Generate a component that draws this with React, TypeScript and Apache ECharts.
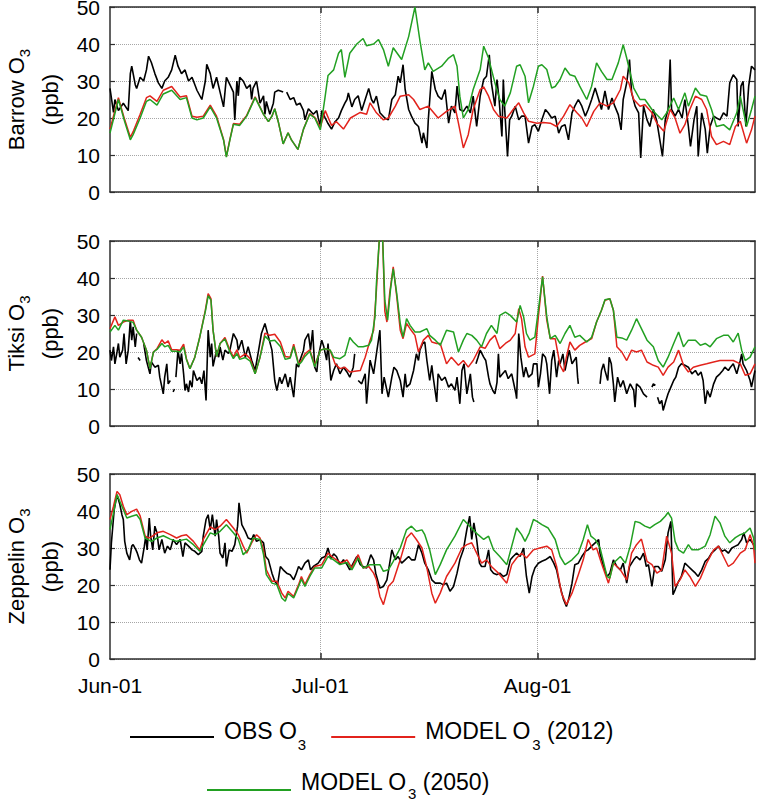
import React, { useEffect, useRef } from 'react';
import * as echarts from 'echarts';

type Pt = [number, number | null];

// ---------- axes / labels ----------
const stationNames = ['Barrow', 'Tiksi', 'Zeppelin'];
const tickDays = [0, 30, 61];
const tickLabels = ['Jun-01', 'Jul-01', 'Aug-01'];
const dayMax = 92;
const yMin = 0;
const yMax = 50;
const yInterval = 10;
const seriesNames = ['OBS O3', 'MODEL O3 (2012)', 'MODEL O3 (2050)'];
const legendMain = ['OBS O', 'MODEL O', 'MODEL O'];
const legendSub = ['3', '3', '3'];
const legendTail = ['', ' (2012)', ' (2050)'];

// ---------- Barrow ----------
const barrowObs: Pt[] = [
  [0, 28], [0.5, 21.5], [0.7, 25], [1.2, 22], [1.9, 24], [2.6, 22], [2.9, 32], [3.1, 34], [3.6, 29], [3.8, 28],
  [4.3, 31], [4.8, 30], [5.2, 33], [5.5, 36.7], [5.9, 35], [6.4, 32], [6.9, 29.5], [7.4, 28], [7.8, 30], [8.3, 31],
  [8.8, 33], [9.3, 37], [9.7, 34], [10.2, 32], [10.7, 33], [11.2, 30], [11.7, 31], [12.4, 27.5], [13.1, 25], [13.6, 30],
  [13.8, 34.5], [14.3, 32], [14.7, 28], [15.2, 31], [15.7, 27], [16.2, 23], [16.6, 31], [17.1, 29], [17.6, 27], [17.8, 19.5],
  [18.1, 30], [18.3, 26], [18.5, 31], [19, 30], [19.5, 28], [20, 29], [20.2, 25], [20.4, 28], [20.9, 30], [21.4, 24],
  [21.9, 26], [22.1, 21], [22.3, 24.5], [22.8, 21], [23.3, 24], [23.5, 27], [24, 27.5], [24.7, 27], [25, null], [25.2, 27],
  [25.7, 25], [26.2, 25.5], [26.6, 23.5], [27.1, 24], [27.6, 22], [27.8, 19.5], [28.3, 22.5], [29, 21], [29.5, 22], [29.7, 20],
  [30, 18], [30.2, 22], [30.7, 20], [31.1, 18.5], [31.6, 17], [32.1, 19], [32.6, 20], [33, 22], [33.5, 24], [33.8, 25],
  [34, 26.8], [34.5, 23], [34.9, 25], [35.4, 26], [35.9, 22], [36.9, 28], [37.3, 25], [37.6, 24], [38, 25.9], [38.5, 21.4],
  [39.2, 20], [39.7, 19.5], [40.2, 25], [40.7, 26.3], [41.1, 31.3], [41.4, 29.5], [41.8, 34.4], [42.1, 27.7], [42.6, 22.3], [43, 20.5],
  [43.5, 18.6], [44, 17.7], [44.5, 13.2], [44.7, 16], [45.2, 11.9], [45.4, 19.5], [45.9, 32.6], [46.4, 27.7], [46.8, 25.9], [47.3, 25],
  [47.8, 27.7], [48.3, 18.6], [48.7, 23.2], [49.2, 21.4], [49.5, 28.6], [49.9, 22.3], [50.4, 21.8], [50.9, 23.2], [51.4, 21.4], [51.8, 25.9],
  [52.3, 17.7], [52.8, 25.9], [53.3, 30.4], [53.7, 31.3], [54.1, 37.1], [54.4, 29.5], [54.9, 23.2], [55.2, 30.4], [55.5, 25], [55.9, 15],
  [56.1, 30.4], [56.3, 22.3], [56.7, 9.6], [57, 19.5], [57.3, 20.5], [57.8, 23.2], [58.3, 19.5], [58.7, 20.5], [59.2, 20.5], [59.7, 13.2],
  [60.2, 17.7], [60.6, 18.2], [61.1, 16.4], [61.6, 19.5], [62.1, 22.3], [62.5, 21.4], [63, 20], [63.5, 20.5], [64, 15.9], [64.4, 17.7],
  [64.9, 18.2], [65.4, 14.1], [65.9, 21.4], [66.3, 23.2], [66.8, 25], [67.3, 23.2], [67.8, 20.5], [68.2, 22.3], [68.7, 25], [69.2, 28.1],
  [69.7, 25], [70.1, 22.3], [70.6, 27.3], [71.1, 22.3], [71.6, 25.4], [72, 23.2], [72.5, 20.9], [72.9, 16.8], [73.2, 25], [73.7, 29.5],
  [74.1, 35.8], [74.4, 26.8], [74.9, 23.2], [75.4, 21.4], [75.7, 9.2], [76.1, 23.2], [76.6, 19.5], [77, 17.7], [77.5, 22.3], [78, 19.1],
  [78.5, 13.2], [78.8, 9.6], [79.2, 19.5], [79.6, 22.3], [79.9, 35.8], [80.1, 22.3], [80.6, 20.5], [81.1, 22.3], [81.6, 20], [82, 25],
  [82.5, 17.7], [82.8, 12.3], [83.3, 19.5], [83.7, 23.2], [83.9, 9.6], [84.4, 21.4], [84.9, 17], [85.2, 10.5], [85.6, 17.7], [86.1, 20.5],
  [86.5, 20], [87, 19.5], [87.5, 21.4], [88, 20.5], [88.4, 29.5], [88.9, 31.7], [89.4, 30.4], [89.6, 17.7], [90, 28.6], [90.3, 29.9],
  [90.7, 17.7], [91.1, 28.6], [91.5, 34], [92, 33],
];
const barrowModel2012: Pt[] = [
  [0, 17], [1.2, 25.5], [2.1, 19.5], [2.9, 14.8], [3.3, 16.3], [4.3, 21], [5.2, 25.5], [5.7, 26], [6.7, 24.5], [7.6, 27.5],
  [8.8, 28.5], [10, 25.7], [10.9, 26], [11.7, 20.5], [12.4, 20.2], [13.3, 20.5], [14.3, 23.5], [15.2, 20.5], [16.2, 14.2], [16.6, 9.6],
  [17.1, 14.2], [17.6, 18.5], [18.5, 18.3], [19.5, 20.7], [20.7, 25.7], [21.9, 21], [22.6, 19], [23.1, 20.5], [23.5, 22.5], [24, 19],
  [24.7, 13], [25.4, 16], [25.9, 14], [26.8, 11.5], [27.6, 17], [28.5, 21.2], [29.2, 20.2], [30, 17.5], [30.7, 22], [31.6, 18],
  [32.3, 19], [33.3, 17], [34.3, 20], [35.7, 21.5], [36.6, 21], [37.1, 24.1], [38, 21.4], [39, 19.5], [39.7, 20], [40.7, 23.2],
  [41.4, 25.9], [42.6, 26.3], [43.3, 25], [44.2, 22.3], [45.4, 23.2], [46.8, 20], [48, 21.8], [49.2, 23.2], [49.7, 18.6], [50.4, 11.9],
  [51.1, 15.5], [51.8, 22.3], [52.8, 27.7], [53.3, 28.4], [54, 25.9], [54.7, 22.3], [55.4, 20.5], [56.6, 20], [57.5, 22.3], [58.3, 24.1],
  [59, 21.4], [59.7, 19.1], [60.9, 18.6], [61.8, 18.8], [62.8, 18.6], [63.7, 17.7], [64.7, 20.5], [65.6, 23.6], [66.6, 21.4], [67.3, 20],
  [68, 17.7], [69, 21.8], [69.9, 24.1], [70.9, 23.2], [71.8, 24.1], [72.8, 27.7], [73.2, 31.3], [74, 29.5], [74.7, 25], [75.6, 23.2],
  [76.3, 23.6], [77.3, 21.4], [78, 18.6], [79, 16.4], [79.9, 22.3], [80.6, 20], [81.3, 15.9], [82, 18.2], [82.7, 22.3], [83.5, 25.9],
  [84.4, 25], [85.1, 22.3], [85.8, 15], [86.5, 12.8], [87.5, 13.7], [88.4, 12.8], [89.2, 17.7], [89.9, 19.1], [90.8, 13.2], [91.5, 16.8],
  [92, 20.5],
];
const barrowModel2050: Pt[] = [
  [0, 15.9], [1.2, 25], [2.1, 19], [2.9, 14.1], [3.3, 15.5], [4.3, 20], [5.2, 24.5], [5.7, 25], [6.7, 23.5], [7.6, 26.5],
  [8.8, 27.5], [10, 25], [10.9, 25.5], [11.7, 20], [12.4, 19.5], [13.3, 20], [14.3, 23], [15.2, 20], [16.2, 14], [16.6, 9.4],
  [17.1, 14], [17.6, 18.3], [18.5, 18], [19.5, 20.5], [20.7, 25.5], [21.9, 21], [22.6, 19], [23.1, 20.5], [23.5, 22.5], [24, 19],
  [24.7, 13], [25.4, 16], [25.9, 14], [26.8, 11.5], [27.6, 17], [28.5, 21], [29.2, 20], [30, 16.8], [30.7, 26], [31.1, 31.5],
  [31.9, 33], [32.6, 37.5], [33, 38.5], [33.5, 31], [34.2, 37.5], [35.2, 40], [36.1, 41.5], [36.6, 39.5], [37.6, 40], [38.3, 41.2],
  [39, 38.5], [39.7, 34], [40.4, 39], [41.6, 35.8], [42.6, 42], [43.5, 50], [44.2, 41], [44.9, 33], [45.4, 34.9], [46.1, 32.6],
  [47.3, 34], [48.3, 36.2], [49, 37.1], [49.5, 34], [49.9, 25.9], [50.4, 20], [51.1, 22.3], [51.8, 27.7], [52.8, 33.1], [53.3, 39.4],
  [54, 36.2], [54.9, 29.5], [55.6, 25], [56.3, 23.2], [57.1, 26.8], [58, 34], [58.5, 34.4], [59.2, 31.3], [59.7, 24.1], [60.4, 28.6],
  [61.1, 34], [61.6, 34.4], [62.3, 33.1], [63, 28.1], [63.5, 28.5], [64.2, 30.4], [64.9, 33.5], [65.6, 31.7], [66.3, 31.3], [67, 28.6],
  [68, 25], [68.7, 28.6], [69.4, 34.9], [70.1, 32.6], [70.9, 30.4], [71.6, 30.4], [72.5, 34.9], [73.2, 39.8], [73.7, 36.2], [74.7, 28.1],
  [75.6, 25], [76.3, 25], [77.3, 22.3], [78, 20.9], [78.7, 19.5], [79.4, 21.4], [80.4, 25.4], [81.1, 22.3], [82, 26.8], [82.5, 23.2],
  [83.5, 28.1], [84.2, 26.3], [85.1, 25.9], [85.8, 22.3], [86.5, 17.7], [87.5, 18.2], [88.4, 16.8], [89.4, 21.4], [89.9, 25.9], [90.8, 17.7],
  [91.5, 22.3], [92, 25.9],
];

// ---------- Tiksi ----------
const tiksiObs: Pt[] = [
  [0, 20.5], [0.2, 17.7], [0.5, 21.4], [0.7, 16.8], [1, 20], [1.2, 22.3], [1.4, 18.6], [1.8, 20.5], [2, 25], [2.3, 16.8],
  [2.6, 20.5], [2.9, 28.6], [3.1, 23.2], [3.3, 26.8], [3.6, 21.4], [3.8, 25], [3.9, null], [4, 18.5], [4.3, 17.7], [4.5, null],
  [4.8, 22.3], [5.2, 17.7], [5.7, 14.1], [5.9, 17.3], [6.4, 15.9], [6.9, 16.4], [7.1, 13.2], [7.6, 8.7], [7.8, 13.2], [8.1, 16.8],
  [8.3, 11.4], [8.6, 12.3], [8.8, null], [9, 9.2], [9.2, 10], [9.3, null], [9.4, 13.2], [9.7, 20.5], [10, 16.8], [10.2, 19.6],
  [10.5, 14.1], [10.7, 9.6], [10.9, 11.4], [11.2, 9.2], [11.4, 12.3], [11.7, 10.5], [11.9, 15], [12.4, 12.3], [12.8, 13.2], [13.1, 11.4],
  [13.4, 15], [13.7, 6.9], [14, 25.9], [14.3, 18.6], [14.5, 22.3], [14.7, 16.1], [15.2, 20.5], [15.5, 18.6], [15.7, 21.4], [16.1, 17.8],
  [16.4, 20.5], [16.9, 19.6], [17.1, 20.5], [17.6, 25], [18.1, 23.2], [18.3, 20.5], [18.8, 23.2], [19.3, 18.6], [19.7, 21.4], [20.2, 17.8],
  [20.7, 15], [21.2, 20.5], [21.6, 25], [22.1, 27.7], [22.6, 24.1], [23.1, 20.5], [23.5, 12.3], [23.8, 9.6], [24.2, 13.2], [24.5, 11.4],
  [25, 14.1], [25.4, 10.5], [25.7, 13.2], [26.2, 7.8], [26.4, 12.3], [26.6, 16.8], [26.9, 15.9], [27.1, 17.8], [27.6, 20.5], [27.8, 23.2],
  [28.3, 25], [28.6, 20.5], [28.9, 25.9], [29.2, 15.9], [29.5, 14.6], [29.7, 18.6], [30.2, 23.2], [30.5, 21.4], [30.9, 17.8], [31.1, 22.3],
  [31.5, 12.3], [31.9, 15], [32.3, 16.8], [32.8, 14.1], [33.3, 15.9], [33.8, 14.6], [34.2, 13.2], [34.7, 15.9], [34.9, 19.5], [35.1, null],
  [35.4, 12.3], [35.9, 11.4], [36.4, 14.1], [36.6, 6], [37.1, 17.8], [37.6, 14.1], [38, 19.5], [38.5, 25.9], [38.8, 8.7], [39.1, 13.2],
  [39.5, 9.6], [39.7, 7.8], [40.2, 13.2], [40.5, 15.9], [40.9, 15], [41.4, 12.3], [41.8, 7.8], [42.1, 14.1], [42.3, 10.5], [42.8, 11.4],
  [43.3, 15], [43.7, 19.5], [44, 17.7], [44.2, 20.5], [44.6, 22.3], [44.9, 22.7], [45.2, 17.7], [45.6, 12.3], [45.9, 16.4], [46.1, 13.2],
  [46.6, 6.5], [46.8, 14.1], [47.3, 12.3], [47.8, 13.2], [48.3, 10.5], [48.7, 11.4], [49.2, 9.6], [49.5, 13.2], [49.9, 6], [50.2, 15],
  [50.5, 16.8], [50.9, 8.7], [51.4, 14.1], [51.7, 7.8], [51.9, 6.5], [52.1, null], [52.2, 16.8], [52.5, 18.6], [52.8, 20.5], [53.3, 18.6],
  [53.6, 17.7], [54, 13.2], [54.2, 11.4], [54.6, 9.6], [54.9, 8.7], [55.2, 11.8], [55.4, 19.5], [55.6, 13.2], [56, 14.1], [56.4, 15],
  [56.8, 12.8], [57.3, 14.1], [57.5, 12.3], [57.9, 8.7], [58, 7.4], [58.3, 25], [58.6, 18.6], [59, 13.2], [59.3, 15.9], [59.7, 13.2],
  [60.2, 14.1], [60.4, 16.8], [60.9, 16.8], [61.1, 10.5], [61.4, 14.1], [61.7, 19.5], [62.1, 18.6], [62.3, 16.8], [62.7, 8.7], [63, 17.7],
  [63.3, 20.5], [63.7, 13.2], [64, 17.7], [64.2, 16.8], [64.6, 19.5], [64.9, 15], [65.1, 16.8], [65.5, 20.5], [65.9, 16.8], [66.2, 17.7],
  [66.5, 18.6], [66.7, 13.2], [66.8, 11.4], [67.5, null], [69.9, 11.4], [70.1, 15], [70.4, 16.8], [70.6, 15], [71, 12.3], [71.2, 18.6],
  [71.5, 16.8], [71.8, 11.4], [72, 6.5], [72.4, 13.2], [72.8, 10.5], [73.2, 12.3], [73.7, 8.7], [74.2, 11.4], [74.7, 9.6], [74.9, 5.1],
  [75.1, 11.4], [75.6, 10.5], [76.1, 8.7], [76.6, 7.8], [76.9, null], [77.3, 10.5], [77.5, 11.4], [77.8, 11], [78, null], [78.1, 7.8],
  [78.4, 6], [78.7, 6.9], [78.9, 4.2], [79.3, 6.9], [79.6, 8.7], [80, 10.5], [80.4, 12.3], [80.7, 13.2], [81.1, 15.9], [81.5, 16.8],
  [82, 16.4], [82.5, 15.9], [83, 14.1], [83.5, 15], [83.9, 13.7], [84.3, 14.6], [84.6, 12.3], [84.9, 6], [85.2, 9.6], [85.6, 7.8],
  [86.1, 11.4], [86.5, 13.2], [87, 14.1], [87.4, 15], [87.7, 15.9], [88.2, 15], [88.5, 15.9], [88.9, 16.8], [89.4, 14.1], [89.9, 17.7],
  [90.1, 19.5], [90.3, 16.8], [90.8, 15], [91.3, 12.3], [91.5, 10.5], [91.8, 13.2], [92, 15],
];
const tiksiModel2012: Pt[] = [
  [0, 26.3], [0.7, 29.5], [1.2, 27.2], [1.9, 28.1], [2.6, 28.6], [3.3, 28.6], [3.8, 25.9], [4.5, 24], [5.2, 20.5], [5.7, 15.5],
  [6.2, 20], [6.7, 20.9], [7.4, 23.3], [7.8, 22.3], [8.3, 23], [8.8, 20.6], [9.5, 20.6], [10, 20.5], [10.5, 22.1], [10.9, 18.2],
  [11.4, 15.5], [12.1, 18.6], [12.8, 24], [13.6, 31.3], [14, 35.8], [14.4, 34.4], [14.7, 25.9], [15.2, 18.8], [15.7, 22.3], [16.4, 23.9],
  [17.1, 20.5], [17.6, 18.6], [18.1, 20.6], [18.5, 18.5], [19.3, 19.5], [20, 18.2], [20.7, 14.1], [21.4, 18.6], [22.1, 25.1], [22.8, 24.5],
  [23.5, 24.8], [24.3, 22.7], [25, 18.8], [25.7, 18.6], [26.2, 22.1], [26.9, 16.8], [27.3, 17.7], [27.8, 19.5], [28.5, 20.6], [29.2, 16.4],
  [30, 20.5], [30.7, 20.9], [31.4, 20.5], [32.1, 16.8], [32.8, 15.5], [33.5, 15.9], [34.2, 14.6], [34.9, 14.8], [35.7, 15], [36.4, 18.6],
  [37.1, 23.2], [37.6, 25.9], [38, 36.7], [38.4, 50], [38.7, 52], [38.9, 50], [39.2, 31], [39.5, 28.1], [39.9, 36], [40.4, 43],
  [40.9, 35], [41.4, 25.9], [41.8, 23.6], [42.3, 27.7], [42.8, 26.3], [43.5, 24.5], [44, 20], [44.7, 23.2], [45.4, 24.5], [45.9, 22.7],
  [46.6, 22.3], [47.1, 22.3], [48, 16.8], [48.7, 18.6], [49.7, 16.4], [50.4, 17.7], [51.1, 15.9], [51.8, 17.7], [52.8, 21.4], [53.5, 21],
  [54.2, 23.2], [54.9, 24.5], [55.6, 20.9], [56.4, 22.3], [57.1, 23.2], [57.8, 25], [58.3, 31.7], [58.7, 29], [59.2, 21.4], [59.7, 18.6],
  [60.6, 19.5], [61.1, 29.5], [61.7, 40.5], [62.3, 28.6], [62.8, 23.6], [63.5, 23.6], [64.2, 16.4], [64.7, 14.6], [65.1, 18.6], [65.6, 22.7],
  [66.3, 20.5], [67, 21.8], [67.8, 22.7], [68.7, 23.6], [69.4, 28.1], [70.1, 31.3], [70.6, 34], [71.3, 34.4], [71.8, 31.3], [72.3, 21.4],
  [73, 20], [73.7, 17.7], [74.4, 20.5], [75.1, 20], [75.8, 20.5], [76.6, 17.3], [77.5, 16.4], [78.2, 15.9], [78.9, 13.7], [79.6, 15.9],
  [80.4, 17.3], [81.1, 20.5], [81.8, 16.4], [82.5, 14.6], [83.2, 15.9], [84.2, 16.4], [85.1, 16.8], [86.1, 17.3], [87, 17.7], [88, 17.7],
  [88.9, 17.7], [89.9, 16.8], [90.6, 13.7], [91.3, 14.1], [92, 16.8],
];
const tiksiModel2050: Pt[] = [
  [0, 25.4], [0.7, 27.2], [1.2, 25.9], [1.9, 28.6], [2.6, 28.4], [3.3, 28], [3.8, 25.9], [4.5, 24], [5.2, 20.5], [5.7, 15.5],
  [6.2, 20], [6.7, 20.7], [7.4, 22.3], [7.8, 21.4], [8.3, 21.8], [8.8, 20.2], [9.5, 20.2], [10, 20], [10.5, 21.4], [10.9, 18],
  [11.4, 15.5], [12.1, 18.6], [12.8, 24], [13.6, 31], [14, 35.2], [14.4, 34], [14.7, 25.9], [15.2, 18.8], [15.7, 22.3], [16.4, 23.5],
  [17.1, 20], [17.6, 18.2], [18.1, 19.6], [18.5, 18], [19.3, 18.5], [20, 17.5], [20.7, 14.1], [21.4, 18.6], [22.1, 24.3], [22.8, 23],
  [23.5, 23.2], [24.3, 21.5], [25, 18], [25.7, 18.4], [26.2, 21.5], [26.9, 16.5], [27.3, 17.3], [27.8, 18.8], [28.5, 20.2], [29.2, 16],
  [30, 20.5], [30.7, 20.9], [31.4, 20.5], [31.9, 18.6], [32.8, 18.2], [33.5, 19.1], [34.2, 23.9], [34.7, 22.7], [35.4, 21.4], [36.1, 21.4],
  [36.9, 21.8], [37.3, 23.2], [37.8, 29.5], [38, 38.5], [38.4, 50], [38.7, 52], [38.9, 50], [39.2, 34], [39.6, 28.6], [40, 36.7],
  [40.4, 42.5], [40.9, 35.8], [41.4, 27.7], [41.8, 24], [42.3, 29], [42.8, 27.2], [43.5, 25.4], [44.2, 25.4], [45.2, 26.3], [45.6, 24.5],
  [46.4, 23.2], [47.1, 21.8], [48, 25.9], [49, 25.4], [49.7, 20], [50.4, 23.2], [50.9, 25], [51.6, 24.5], [52.3, 23.2], [53, 21.4],
  [53.7, 25], [54.4, 27.2], [55.2, 25], [55.6, 29.9], [56.4, 30.8], [57.1, 29.9], [58, 28.1], [58.5, 32.6], [59, 29.5], [59.4, 25],
  [59.9, 23.2], [60.6, 24], [61.1, 31.3], [61.7, 40.3], [62.3, 29.5], [62.8, 23.6], [63.5, 24.5], [64.2, 22.3], [64.9, 25], [65.6, 27.2],
  [66.3, 24], [67, 24.5], [68, 22.7], [68.7, 24], [69.4, 28.1], [70.1, 31.3], [70.6, 34.1], [71.3, 34.4], [71.8, 31.3], [72.3, 24],
  [73, 23.8], [73.7, 23.2], [74.4, 25.9], [75.1, 29], [75.8, 26.3], [76.6, 23.2], [77.5, 21.4], [78.2, 17.7], [78.9, 15.9], [79.6, 18.6],
  [80.4, 22.3], [81.1, 25.4], [81.8, 21.4], [82.5, 23.2], [83.5, 23.2], [84.2, 21.8], [84.9, 22.3], [85.6, 21.4], [86.5, 23.6], [87.5, 24.5],
  [88.2, 24.5], [88.9, 22.7], [89.6, 25.1], [90.1, 20.5], [90.6, 17.7], [91.3, 18.6], [92, 21.4],
];

// ---------- Zeppelin ----------
const zeppelinObs: Pt[] = [
  [0, 24.1], [0.2, 31.4], [0.6, 40.4], [1, 44.4], [1.4, 41.8], [1.7, 39], [1.9, 37.7], [2.1, 31.8], [2.4, 28.6], [2.8, 26.8],
  [3.1, 30.5], [3.3, 30.9], [3.7, 29.5], [3.9, 28.6], [4.2, 26.8], [4.5, 25.9], [4.9, 30.5], [5.1, 33.2], [5.3, 29.5], [5.6, 38.1],
  [5.8, 33.2], [6.1, 29.5], [6.4, 35.9], [6.7, 34.1], [7, 29.5], [7.4, 32.3], [7.8, 28.6], [8.2, 30.5], [8.6, 29.5], [9, 32.3],
  [9.5, 30.9], [10, 32.3], [10.4, 27.7], [10.7, 31.4], [11.2, 30.5], [11.7, 29.5], [12.1, 29.1], [12.6, 28.2], [13.1, 29.1], [13.3, 33.2],
  [13.7, 37.7], [14, 39], [14.3, 34.9], [14.6, 39], [15, 33.2], [15.2, 37.7], [15.5, 33.2], [15.7, 28.6], [16.1, 27.3], [16.4, 31.4],
  [16.6, 25], [17, 29.5], [17.4, 29.1], [17.8, 30.9], [18.2, 35.9], [18.4, 42.2], [18.8, 36.3], [19.3, 34.5], [19.7, 32.7], [20.2, 32.3],
  [20.5, 33.6], [20.9, 31.8], [21.4, 32.3], [21.9, 31.4], [22.2, 27.7], [22.6, 26.8], [23.1, 23.2], [23.5, 21], [23.9, 20.1], [24.3, 25],
  [24.7, 24.1], [25.2, 23.2], [25.7, 22.8], [26.2, 21.4], [26.5, 22.8], [26.9, 25], [27.3, 24.1], [27.8, 25.9], [28.3, 26.8], [28.6, 24.1],
  [29, 25], [29.7, 25.9], [30.2, 27.3], [30.7, 27.7], [31.1, 30], [31.5, 27], [31.9, 28.4], [32.3, 27.7], [32.8, 25.5], [33.3, 26.8],
  [33.8, 25.5], [34.2, 24.1], [34.7, 25.9], [35.2, 27.7], [35.7, 25.5], [36.1, 25], [36.6, 24.6], [37.2, 28.2], [37.6, 26.8], [37.9, 23.2],
  [38.3, 20.5], [38.5, 19.2], [39, 19.6], [39.5, 21.4], [39.9, 25.9], [40.2, 29.5], [40.7, 26.8], [41.1, 27.7], [41.6, 25.9], [42.1, 26.8],
  [42.6, 27.7], [43, 26.8], [43.5, 26.8], [44, 30.9], [44.5, 28.6], [44.9, 25.9], [45.4, 24.1], [45.9, 21.4], [46.4, 20.5], [47.1, 20.5],
  [47.5, 20.1], [48, 20.5], [48.5, 18.3], [49, 19.6], [49.5, 23.2], [49.9, 26.8], [50.4, 29.5], [50.9, 35], [51.3, 38.6], [51.6, 32.3],
  [51.9, 36.8], [52.3, 32.3], [52.7, 25.9], [53, 25], [53.5, 25], [54, 29.5], [54.3, 24.1], [54.7, 23.2], [55.2, 22.8], [55.6, 23.2],
  [56.1, 22.3], [56.6, 22.8], [57.1, 26.8], [57.5, 27.7], [58, 28.6], [58.5, 27.7], [59, 30], [59.2, 25.9], [59.4, 22.3], [59.8, 17.8],
  [60.2, 22.3], [60.6, 24.6], [61.1, 25.9], [61.6, 26.4], [62.1, 26.8], [62.8, 27.7], [63.3, 25.9], [63.7, 24.1], [64.2, 19.6], [64.7, 16],
  [65.1, 14.2], [65.4, 16], [65.9, 20.5], [66.3, 25.5], [66.8, 25.9], [67.3, 27.7], [67.8, 29.1], [68.2, 29.5], [68.7, 30.5], [69.2, 31.4],
  [69.7, 32.3], [69.9, 28.6], [70.4, 25], [70.9, 22.3], [71.3, 23.2], [71.8, 26.8], [72.3, 25], [72.8, 24.1], [73.2, 25.9], [73.7, 20.5],
  [74.1, 25], [74.7, 26.8], [75.1, 27.7], [75.6, 26.8], [76.1, 28.6], [76.5, 25], [76.8, 25.5], [77.3, 19.6], [77.7, 25], [78.2, 25],
  [78.7, 23.7], [79.2, 26.8], [79.6, 34.1], [80, 37.2], [80.3, 17.4], [80.6, 18.7], [81.1, 21], [81.5, 22.3], [82, 25.9], [82.5, 25],
  [83, 24.1], [83.5, 23.2], [83.9, 22.3], [84.4, 24.1], [84.9, 26.4], [85.4, 27.3], [85.8, 28.6], [86.3, 29.5], [86.8, 30.5], [87.3, 29.1],
  [87.7, 29.5], [88.2, 28.6], [88.7, 30], [89.2, 30.5], [89.6, 30.9], [90.1, 32.3], [90.4, 34.1], [90.8, 31.4], [91.3, 32.3], [91.8, 30.9],
];
const zeppelinModel2012: Pt[] = [
  [0, 37.7], [0.5, 41.3], [1, 45.3], [1.4, 44.4], [1.9, 41.3], [2.4, 39], [3.1, 39.9], [3.8, 40.5], [4.3, 38.7], [5, 33.3],
  [5.5, 32.7], [5.9, 33], [6.7, 34.1], [7.6, 34.5], [8.6, 33.6], [9.5, 32.7], [10.2, 33.3], [10.9, 33.6], [11.9, 31.8], [12.8, 29.5],
  [13.3, 32.3], [14.3, 35.7], [15, 35], [15.7, 35.9], [16.6, 37.7], [17.6, 35.4], [18.3, 33.6], [19, 30.5], [19.5, 28.6], [20.2, 31.4],
  [20.9, 33.6], [21.4, 32.7], [21.9, 29.5], [22.3, 24.1], [23.1, 21], [23.8, 21], [24.5, 17.8], [25, 16.5], [25.4, 18.3], [26.2, 16.9],
  [26.9, 20.1], [27.3, 22.3], [27.8, 20.1], [28.5, 22.8], [29.2, 25], [30.2, 25.5], [31.1, 28.6], [31.9, 27.3], [32.3, 26.8], [33, 25.9],
  [33.8, 26.8], [34.5, 24.6], [35.4, 28.2], [36.1, 24.6], [36.9, 25], [37.6, 23.2], [38, 21.4], [38.5, 16.9], [39, 14.7], [39.7, 19.6],
  [40.4, 21], [41.4, 26.8], [42.3, 32.7], [43, 34.1], [43.7, 32.3], [44.5, 30], [45.2, 24.6], [45.9, 17.8], [46.4, 15.1], [47.1, 17.8],
  [48, 22.3], [49.2, 25.9], [50.2, 30], [50.9, 30.9], [51.6, 31.4], [52.3, 28.6], [53, 25.9], [53.7, 26.8], [54.4, 25], [55.4, 23.2],
  [56.6, 20.5], [57.3, 25.5], [58, 27.3], [58.7, 28.6], [59.4, 27.3], [60.4, 29.5], [61.3, 30], [62.3, 30.5], [63, 29.5], [63.7, 25],
  [64.4, 17.8], [65.1, 14.7], [65.9, 17.8], [66.8, 22.8], [67.5, 26.8], [68.2, 32.3], [68.9, 29.5], [69.4, 30], [70.1, 25.9], [71.1, 20.5],
  [71.8, 25.9], [72.8, 24.1], [73.7, 21.4], [74.4, 28.6], [75.1, 30.9], [75.8, 32.4], [76.6, 26.4], [77.3, 25.5], [78, 23.2], [78.7, 24.1],
  [79.4, 33.2], [80.1, 28.6], [80.6, 19.6], [81.3, 21.4], [82, 24.1], [82.7, 22.3], [83.5, 19.6], [84.2, 21.8], [85.1, 25.9], [86.1, 29.5],
  [86.8, 30.5], [87.5, 27.7], [88.2, 25], [88.9, 25.9], [89.9, 28.6], [90.6, 29.5], [91.3, 33.6], [91.8, 30.5], [92, 25.9],
];
const zeppelinModel2050: Pt[] = [
  [0, 35], [0.5, 39.5], [1, 44.4], [1.9, 40.4], [2.4, 38.1], [3.1, 38.6], [3.8, 39], [4.3, 37.7], [5, 32.7], [5.9, 31.8],
  [6.7, 32.7], [7.6, 33.3], [8.6, 32.4], [9.5, 31.8], [10.9, 32.4], [11.9, 30.9], [12.8, 29.1], [13.6, 31.8], [14.3, 34.1], [15, 33.6],
  [15.7, 34.5], [16.6, 36.3], [17.6, 34.1], [18.3, 32.4], [19, 28.2], [19.7, 29.5], [20.4, 32.7], [21.4, 32.3], [21.9, 28.2], [22.3, 22.8],
  [23.1, 20.5], [23.8, 20.1], [24.5, 16.5], [25, 15.6], [25.4, 17.7], [26.2, 16.5], [26.9, 19.6], [27.3, 21.6], [27.8, 19.6], [28.5, 22.3],
  [29.2, 24.6], [30.2, 24.6], [31.1, 27.7], [31.9, 26.8], [32.8, 25.5], [33.8, 26.1], [34.5, 24.1], [35.4, 27.3], [36.1, 24.6], [37.1, 25.5],
  [38, 25.5], [38.5, 25.5], [39, 23.7], [39.7, 24.1], [40.4, 26.4], [41.4, 30], [42.3, 34.9], [43, 35.9], [43.7, 34.5], [44.5, 34.9],
  [44.9, 33.6], [45.6, 29.5], [46.4, 22.8], [47.1, 25.5], [48, 29.5], [49.2, 33.2], [50.4, 37.7], [51.1, 36.3], [51.8, 34.9], [52.5, 33.6],
  [53.3, 32.3], [54, 33.2], [54.7, 29.5], [55.6, 27.7], [56.6, 25.5], [57.3, 30.5], [58, 35.4], [58.7, 33.6], [59.2, 31.8], [59.8, 34.1],
  [60.4, 37.7], [60.9, 37.2], [61.6, 36.3], [62.5, 35.4], [63.5, 32.3], [64.2, 27.7], [64.9, 25.5], [65.9, 26.8], [66.8, 28.6], [67.5, 32.3],
  [68.1, 36.3], [68.6, 33.2], [69.2, 32.3], [69.9, 30], [70.9, 22.3], [71.3, 21.9], [71.8, 25.9], [72.8, 27.7], [73.5, 25.9], [74.2, 30.5],
  [74.9, 37.2], [75.6, 36.8], [76.3, 35.9], [77, 35.4], [77.7, 36.3], [78.5, 37.2], [79.2, 38.6], [79.6, 39.6], [80.1, 38.1], [80.6, 31.8],
  [81.1, 29.5], [81.8, 28.6], [82.5, 30.9], [83, 29.5], [83.9, 29.5], [84.9, 30.5], [85.6, 33.6], [86.3, 38.6], [87, 36.8], [87.7, 33.2],
  [88.4, 31.4], [89.2, 32.8], [89.9, 33.6], [90.6, 34.1], [91.3, 35.4], [91.8, 32.7], [92, 29.5],
];

const panelData: Pt[][][] = [
  [barrowObs, barrowModel2012, barrowModel2050],
  [tiksiObs, tiksiModel2012, tiksiModel2050],
  [zeppelinObs, zeppelinModel2012, zeppelinModel2050],
];

// ---------- styling / layout ----------
const W = 757;
const H = 802;
const FONT = '"Liberation Sans", Arial, Helvetica, sans-serif';
const GRID_LEFT = 110;
const GRID_WIDTH = 645;
const GRID_HEIGHT = 185;
const GRID_TOPS = [7, 241, 474];
const seriesColors = ['#000000', '#e2231c', '#22a022'];
const seriesWidths = [1.6, 1.5, 1.5];
const frameColor = '#2e2e2e';
const gridLineColor = '#a6a6a6';

let measureCtx: CanvasRenderingContext2D | null = null;
function textWidth(t: string, size: number): number {
  if (!measureCtx) measureCtx = document.createElement('canvas').getContext('2d');
  if (!measureCtx) return t.length * size * 0.55;
  measureCtx.font = `${size}px ${FONT}`;
  return measureCtx.measureText(t).width;
}

function txt(x: number, y: number, text: string, size: number, extra: any = {}) {
  return {
    type: 'text',
    x,
    y,
    silent: true,
    ...extra,
    style: {
      text,
      font: `${size}px ${FONT}`,
      fill: '#000',
      textAlign: 'left',
      textVerticalAlign: 'middle',
    },
  };
}

function buildGraphics(): any[] {
  const els: any[] = [];
  // rotated y-axis titles
  const mainSize = 22;
  const subSize = 15;
  stationNames.forEach((name, i) => {
    const cy = GRID_TOPS[i] + GRID_HEIGHT / 2;
    const main = `${name} O`;
    const wM = textWidth(main, mainSize);
    const wS = textWidth('3', subSize);
    const startY = cy + (wM + wS) / 2;
    els.push(txt(16, startY, main, mainSize, { rotation: Math.PI / 2 }));
    els.push(txt(24.5, startY - wM, '3', subSize, { rotation: Math.PI / 2 }));
    const wP = textWidth('(ppb)', mainSize);
    els.push(txt(50.5, cy + wP / 2, '(ppb)', mainSize, { rotation: Math.PI / 2 }));
  });

  // legend (two rows)
  const lgSize = 23;
  const lgSub = 15;
  const rows = [
    { items: [0, 1], x0: 130, lineY: 737, capY: 730.5, subY: 744 },
    { items: [2], x0: 207, lineY: 790, capY: 781.5, subY: 793 },
  ];
  rows.forEach((row) => {
    let x = row.x0;
    row.items.forEach((k) => {
      els.push({
        type: 'line',
        silent: true,
        shape: { x1: x, y1: row.lineY, x2: x + 84, y2: row.lineY },
        style: { stroke: seriesColors[k], lineWidth: 2 },
      });
      let tx = x + 94;
      els.push(txt(tx, row.capY, legendMain[k], lgSize));
      tx += textWidth(legendMain[k], lgSize) + 1;
      els.push(txt(tx, row.subY, legendSub[k], lgSub));
      tx += textWidth(legendSub[k], lgSub);
      if (legendTail[k]) {
        els.push(txt(tx, row.capY, legendTail[k], lgSize));
        tx += textWidth(legendTail[k], lgSize);
      }
      x = tx + 25;
    });
  });
  return els;
}

function buildOption(): any {
  const axisLineStyle = { color: frameColor, width: 1.5 };
  const xAxes: any[] = [];
  const yAxes: any[] = [];
  for (let i = 0; i < 3; i++) {
    xAxes.push({
      type: 'value',
      gridIndex: i,
      position: 'bottom',
      min: 0,
      max: dayMax,
      axisLine: { show: true, onZero: false, lineStyle: axisLineStyle },
      axisTick: {
        show: true,
        inside: true,
        length: 6,
        customValues: tickDays.slice(1),
        lineStyle: { color: frameColor, width: 1.5 },
      },
      axisLabel:
        i === 2
          ? {
              show: true,
              customValues: tickDays,
              formatter: (v: number) => {
                const idx = tickDays.indexOf(Math.round(v));
                return idx >= 0 ? tickLabels[idx] : '';
              },
              fontSize: 21,
              fontFamily: FONT,
              color: '#000',
              margin: 16,
            }
          : { show: false },
      splitLine: { show: true, lineStyle: { color: gridLineColor, type: 'dotted', width: 1 } },
    });
  }
  for (let i = 0; i < 3; i++) {
    xAxes.push({
      type: 'value',
      gridIndex: i,
      position: 'top',
      min: 0,
      max: dayMax,
      axisLine: { show: true, onZero: false, lineStyle: axisLineStyle },
      axisTick: {
        show: true,
        inside: true,
        length: 6,
        customValues: tickDays.slice(1),
        lineStyle: { color: frameColor, width: 1.5 },
      },
      axisLabel: { show: false },
      splitLine: { show: false },
    });
  }
  for (let i = 0; i < 3; i++) {
    yAxes.push({
      type: 'value',
      gridIndex: i,
      position: 'left',
      min: yMin,
      max: yMax,
      interval: yInterval,
      axisLine: { show: true, onZero: false, lineStyle: axisLineStyle },
      axisTick: { show: true, inside: true, length: 5, lineStyle: { color: frameColor, width: 1.2 } },
      axisLabel: {
        show: true,
        fontSize: 21,
        fontFamily: FONT,
        color: '#000',
        margin: 10,
        padding: [6, 0, 0, 0],
      },
      splitLine: { show: true, lineStyle: { color: gridLineColor, type: 'dotted', width: 1 } },
    });
  }
  for (let i = 0; i < 3; i++) {
    yAxes.push({
      type: 'value',
      gridIndex: i,
      position: 'right',
      min: yMin,
      max: yMax,
      interval: yInterval,
      axisLine: { show: true, onZero: false, lineStyle: axisLineStyle },
      axisTick: { show: true, inside: true, length: 5, lineStyle: { color: frameColor, width: 1.2 } },
      axisLabel: { show: false },
      splitLine: { show: false },
    });
  }

  const series: any[] = [];
  panelData.forEach((sets, i) => {
    sets.forEach((pts, k) => {
      series.push({
        type: 'line',
        name: seriesNames[k],
        xAxisIndex: i,
        yAxisIndex: i,
        data: pts.map(([d, v]) => [d, v === null ? '-' : v]),
        showSymbol: false,
        symbol: 'none',
        connectNulls: false,
        clip: true,
        silent: true,
        z: 2 + k,
        color: seriesColors[k],
        lineStyle: { color: seriesColors[k], width: seriesWidths[k] },
      });
    });
  });

  return {
    animation: false,
    backgroundColor: '#ffffff',
    grid: GRID_TOPS.map((top) => ({
      left: GRID_LEFT,
      top,
      width: GRID_WIDTH,
      height: GRID_HEIGHT,
      containLabel: false,
      outerBoundsMode: 'none',
      show: false,
    })),
    xAxis: xAxes,
    yAxis: yAxes,
    series,
    graphic: { elements: buildGraphics() },
  };
}

export default function App() {
  const ref = useRef<HTMLDivElement>(null);
  useEffect(() => {
    if (!ref.current) return;
    const chart = echarts.init(ref.current, undefined, { renderer: 'svg', width: W, height: H });
    chart.setOption(buildOption());
    return () => chart.dispose();
  }, []);
  return (
    <div
      ref={ref}
      style={{ position: 'absolute', left: 0, top: 0, width: W, height: H, background: '#fff' }}
    />
  );
}
